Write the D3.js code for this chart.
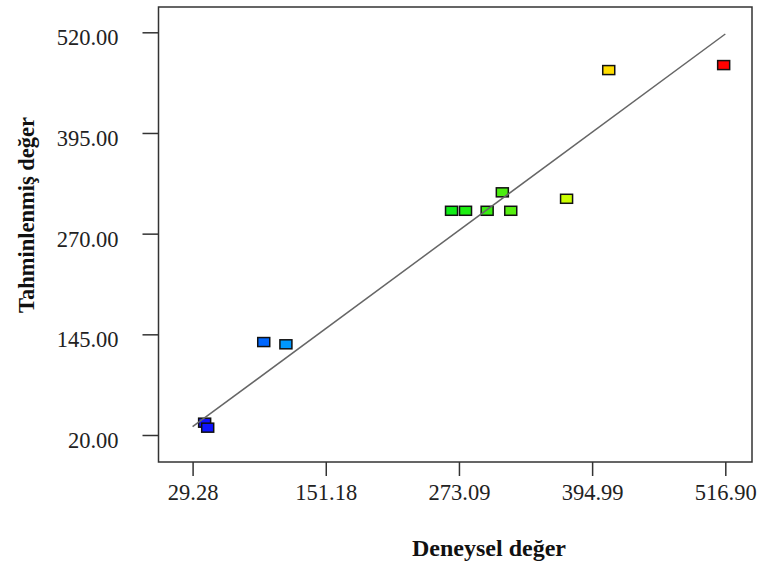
<!DOCTYPE html>
<html>
<head>
<meta charset="utf-8">
<script src="https://cdn.jsdelivr.net/npm/d3@7"></script>
<style>
  body { margin: 0; background: #fff; }
  text { font-family: "Liberation Serif", "Times New Roman", serif; }
</style>
</head>
<body>
<svg id="chart" width="757" height="570"></svg>
<script>
"use strict";

var deneysel = [40.3, 43.1, 94.4, 114.7, 266.3, 279.1, 298.9, 312.8, 320.5, 371.6, 410.2, 515.4];
var tahmin   = [35.3, 29.1, 135.4, 132.6, 298.4, 298.4, 298.4, 321.3, 298.4, 313.3, 473.1, 479.3];

var xTicks = [29.28, 151.18, 273.09, 394.99, 516.90];
var yTicks = [20.00, 145.00, 270.00, 395.00, 520.00];

var frame = { left: 158.5, right: 752, top: 7, bottom: 462 };

var svg = d3.select("#chart");

var x = d3.scaleLinear()
  .domain([29.28, 516.90])
  .range([192.6, 725.3]);

var y = d3.scaleLinear()
  .domain([20, 520])
  .range([435, 32.3]);

// colour runs from blue (low) to red (high)
var colour = d3.scaleLinear()
  .domain([40, 94, 115, 270, 320, 372, 410, 516])
  .range(["#1010ff", "#0066ff", "#0099ff", "#11ee11", "#55ee11", "#ccff00", "#ffdd00", "#ff0000"]);

svg.append("rect")
  .attr("x", frame.left)
  .attr("y", frame.top)
  .attr("width", frame.right - frame.left)
  .attr("height", frame.bottom - frame.top)
  .attr("fill", "none")
  .attr("stroke", "#333")
  .attr("stroke-width", 1.5);

var xAxis = svg.append("g")
  .attr("transform", "translate(0," + frame.bottom + ")")
  .call(d3.axisBottom(x).tickValues(xTicks).tickSize(14).tickPadding(8)
    .tickFormat(d3.format(".2f")));

var yAxis = svg.append("g")
  .attr("transform", "translate(" + frame.left + ",0)")
  .call(d3.axisLeft(y).tickValues(yTicks).tickSize(16).tickPadding(24)
    .tickFormat(d3.format(".2f")));

[xAxis, yAxis].forEach(function (g) {
  g.select(".domain").remove();
  g.selectAll(".tick line").attr("stroke", "#333").attr("stroke-width", 1.5);
  g.selectAll(".tick text")
    .attr("fill", "#222")
    .style("font-size", "22.5px");
});
yAxis.selectAll(".tick text").attr("dy", "0.55em");

// markers
svg.append("g")
  .selectAll("rect")
  .data(deneysel)
  .enter().append("rect")
    .attr("x", function (d) { return x(d) - 6; })
    .attr("y", function (d, i) { return y(tahmin[i]) - 4.5; })
    .attr("width", 12)
    .attr("height", 9)
    .attr("fill", function (d) { return colour(d); })
    .attr("stroke", "#111")
    .attr("stroke-width", 1.5);

// y = x reference line
var lineEnds = [29.28, 516.90];
svg.append("line")
  .attr("x1", x(lineEnds[0]))
  .attr("y1", y(lineEnds[0] + 1))
  .attr("x2", x(lineEnds[1]))
  .attr("y2", y(lineEnds[1] + 1))
  .attr("stroke", "#666")
  .attr("stroke-width", 1.5);

svg.append("text")
  .attr("x", 489)
  .attr("y", 556)
  .attr("text-anchor", "middle")
  .attr("font-weight", "bold")
  .style("font-size", "24px")
  .attr("fill", "#111")
  .text("Deneysel değer");

svg.append("text")
  .attr("transform", "translate(34,215) rotate(-90)")
  .attr("text-anchor", "middle")
  .attr("font-weight", "bold")
  .style("font-size", "22.5px")
  .attr("fill", "#111")
  .text("Tahminlenmiş değer");
</script>
</body>
</html>
